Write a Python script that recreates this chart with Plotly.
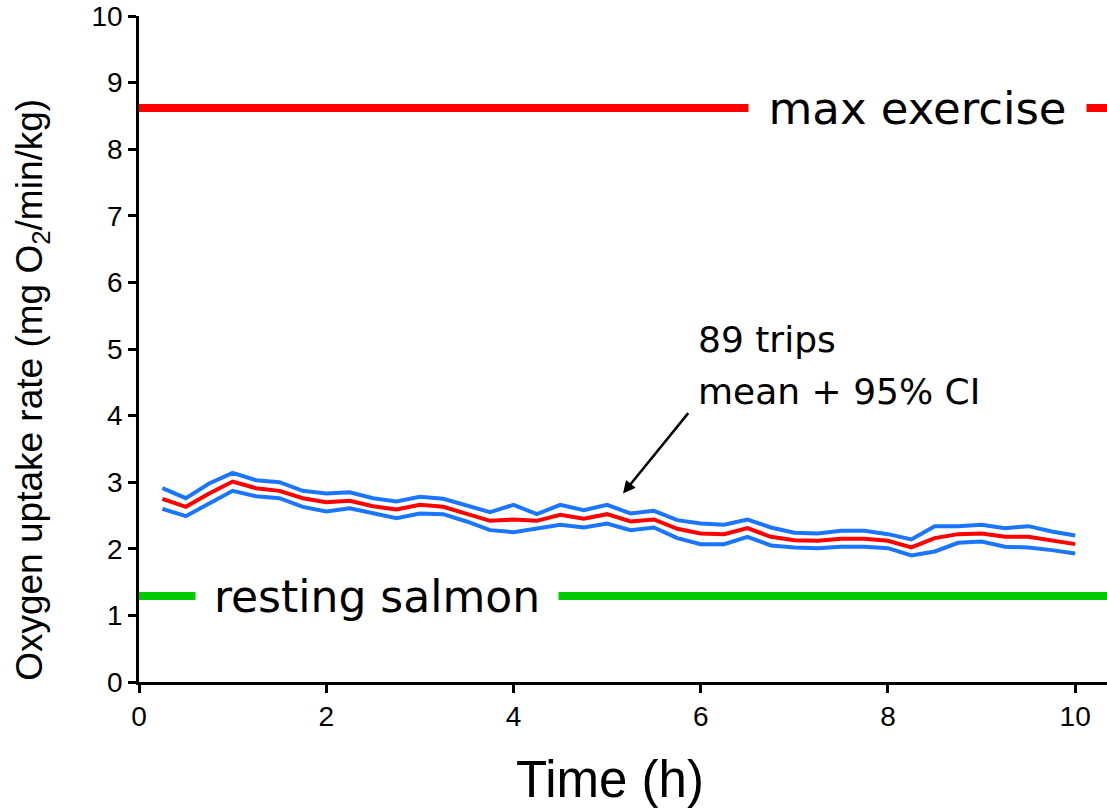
import plotly.graph_objects as go

# ---- data ----
time_h = [0.25, 0.5, 0.75, 1.0, 1.25, 1.5, 1.75, 2.0, 2.25, 2.5,
          2.75, 3.0, 3.25, 3.5, 3.75, 4.0, 4.25, 4.5, 4.75, 5.0,
          5.25, 5.5, 5.75, 6.0, 6.25, 6.5, 6.75, 7.0, 7.25, 7.5,
          7.75, 8.0, 8.25, 8.5, 8.75, 9.0, 9.25, 9.5, 9.75, 10.0]

ci_upper = [2.91, 2.76, 2.98, 3.14, 3.03, 3.00, 2.87, 2.83, 2.85, 2.76,
            2.71, 2.78, 2.75, 2.65, 2.55, 2.66, 2.52, 2.66, 2.58, 2.66,
            2.53, 2.57, 2.43, 2.38, 2.36, 2.44, 2.32, 2.24, 2.23, 2.27,
            2.27, 2.22, 2.14, 2.34, 2.34, 2.36, 2.31, 2.34, 2.26, 2.20]

mean_rate = [2.75, 2.63, 2.83, 3.01, 2.91, 2.87, 2.76, 2.70, 2.72, 2.64,
             2.59, 2.66, 2.63, 2.53, 2.42, 2.44, 2.42, 2.51, 2.45, 2.52,
             2.41, 2.44, 2.30, 2.23, 2.22, 2.31, 2.18, 2.13, 2.12, 2.15,
             2.15, 2.12, 2.02, 2.16, 2.22, 2.23, 2.18, 2.18, 2.12, 2.07]

ci_lower = [2.60, 2.49, 2.68, 2.87, 2.79, 2.76, 2.63, 2.56, 2.61, 2.53,
            2.46, 2.53, 2.52, 2.41, 2.28, 2.25, 2.31, 2.36, 2.32, 2.38,
            2.28, 2.32, 2.16, 2.07, 2.07, 2.18, 2.05, 2.02, 2.01, 2.03,
            2.03, 2.01, 1.90, 1.96, 2.09, 2.11, 2.03, 2.02, 1.98, 1.93]

max_exercise = 8.62
resting_salmon = 1.29

x_ticks = [0, 2, 4, 6, 8, 10]
y_ticks = [0, 1, 2, 3, 4, 5, 6, 7, 8, 9, 10]

X_MAX = 10.34

BLUE = "#1a75ff"
RED = "#ff0000"
GREEN = "#00cc00"

fig = go.Figure()

# reference levels
fig.add_trace(go.Scatter(x=[0, X_MAX], y=[max_exercise, max_exercise], mode="lines",
                         line=dict(color=RED, width=8), showlegend=False, hoverinfo="skip"))
fig.add_trace(go.Scatter(x=[0, X_MAX], y=[resting_salmon, resting_salmon], mode="lines",
                         line=dict(color=GREEN, width=8), showlegend=False, hoverinfo="skip"))

# CI and mean
fig.add_trace(go.Scatter(x=time_h, y=ci_upper, mode="lines", name="upper 95% CI",
                         line=dict(color=BLUE, width=4), showlegend=False))
fig.add_trace(go.Scatter(x=time_h, y=ci_lower, mode="lines", name="lower 95% CI",
                         line=dict(color=BLUE, width=4), showlegend=False))
fig.add_trace(go.Scatter(x=time_h, y=mean_rate, mode="lines", name="mean",
                         line=dict(color=RED, width=4), showlegend=False))

fig.add_annotation(x=8.32, y=max_exercise, xref="x", yref="y", text="max exercise",
                   showarrow=False, font=dict(family="DejaVu Sans", size=45, color="black"),
                   bgcolor="white", borderpad=0, width=337, height=56, align="center")
fig.add_annotation(x=2.54, y=resting_salmon, xref="x", yref="y", text="resting salmon",
                   showarrow=False, font=dict(family="DejaVu Sans", size=44, color="black"),
                   bgcolor="white", borderpad=0, width=362, height=56, align="center")

note_font = dict(family="DejaVu Sans", size=36, color="black")
fig.add_annotation(x=5.95, y=5.14, xref="x", yref="y", text="89 trips", showarrow=False,
                   xanchor="left", yanchor="middle", font=note_font)
fig.add_annotation(x=5.95, y=4.36, xref="x", yref="y", text="mean + 95% CI", showarrow=False,
                   xanchor="left", yanchor="middle", font=note_font)
fig.add_annotation(x=5.17, y=2.83, ax=5.88, ay=4.06, xref="x", yref="y", axref="x", ayref="y",
                   text="", showarrow=True, arrowhead=2, arrowsize=1, arrowwidth=2.5,
                   arrowcolor="black")

# axis titles as annotations for exact placement
fig.add_annotation(xref="paper", yref="paper", x=-0.11, y=0.438,
                   text="Oxygen uptake rate (mg O<sub>2</sub>/min/kg)", textangle=-90,
                   showarrow=False, xanchor="center", yanchor="middle",
                   font=dict(family="Liberation Sans", size=37, color="black"))
fig.add_annotation(xref="paper", yref="paper", x=0.487, y=-0.147,
                   text="Time (h)", showarrow=False, xanchor="center", yanchor="middle",
                   font=dict(family="Liberation Sans", size=51, color="black"))

axis_common = dict(showgrid=False, zeroline=False, showline=True, linecolor="black",
                   linewidth=2.5, ticks="outside", ticklen=8, tickwidth=2.5, tickcolor="black",
                   tickfont=dict(family="Liberation Sans", size=28, color="black"))

fig.update_xaxes(range=[0, X_MAX], tickvals=x_ticks, **axis_common)
fig.update_yaxes(range=[0, 10], tickvals=y_ticks, **axis_common)

fig.update_layout(width=1107, height=810, margin=dict(l=139, r=0, t=16, b=128),
                  plot_bgcolor="white", paper_bgcolor="white", showlegend=False)

# remove the default page margin so the figure fills the window exactly
fig.write_html("out.html", config={"displayModeBar": False},
               post_script="document.body.style.margin='0';document.body.style.overflow='hidden';")
